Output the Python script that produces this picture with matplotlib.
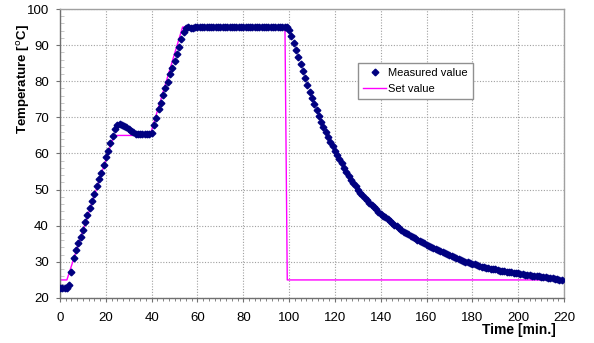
import numpy as np
import matplotlib
matplotlib.use("Agg")
import matplotlib.pyplot as plt
from matplotlib.ticker import MultipleLocator

# measured temperature, one sample per minute (t = 0 .. 219)
meas_time = list(range(220))
meas_temp = [
    22.8, 22.8, 22.8, 22.8, 23.6, 27.3, 31.0, 33.3, 35.2, 37.0,   # 0-9
    38.9, 40.9, 42.9, 44.9, 46.9, 48.8, 50.9, 52.9, 54.7, 56.7,   # 10-19
    58.9, 60.8, 62.9, 64.8, 66.7, 67.9, 68.1, 68.0, 67.7, 67.3,   # 20-29
    66.9, 66.3, 65.9, 65.5, 65.4, 65.3, 65.3, 65.3, 65.3, 65.3,   # 30-39
    65.7, 67.8, 69.9, 72.2, 74.1, 76.1, 78.0, 79.8, 81.9, 83.8,   # 40-49
    85.6, 87.5, 89.6, 91.7, 93.5, 94.7, 94.9, 94.8, 94.8, 94.9,   # 50-59
    95.0, 95.0, 95.0, 95.0, 95.0, 95.0, 95.0, 95.0, 95.0, 95.0,   # 60-69
    95.0, 95.0, 95.0, 95.0, 95.0, 95.0, 95.0, 95.0, 95.0, 95.0,   # 70-79
    95.0, 95.0, 95.0, 95.0, 95.0, 95.0, 95.0, 95.0, 95.0, 95.0,   # 80-89
    95.0, 95.0, 95.0, 95.0, 95.0, 95.0, 95.0, 95.0, 95.0, 94.9,   # 90-99
    94.1, 92.5, 90.6, 88.6, 86.7, 84.7, 82.8, 80.9, 79.0, 77.1,   # 100-109
    75.3, 73.6, 72.0, 70.4, 68.8, 67.3, 66.0, 64.5, 63.2, 62.0,   # 110-119
    60.7, 59.5, 58.4, 57.3, 56.1, 55.0, 53.9, 52.8, 51.8, 50.9,   # 120-129
    50.0, 49.2, 48.4, 47.7, 47.0, 46.3, 45.7, 45.1, 44.5, 43.9,   # 130-139
    43.3, 42.8, 42.3, 41.8, 41.3, 40.8, 40.3, 39.8, 39.3, 38.8,   # 140-149
    38.4, 38.0, 37.6, 37.2, 36.8, 36.5, 36.1, 35.8, 35.4, 35.1,   # 150-159
    34.8, 34.5, 34.2, 33.9, 33.6, 33.3, 33.0, 32.7, 32.4, 32.1,   # 160-169
    31.8, 31.5, 31.3, 31.0, 30.8, 30.5, 30.3, 30.1, 29.9, 29.7,   # 170-179
    29.5, 29.3, 29.1, 28.9, 28.7, 28.6, 28.4, 28.3, 28.1, 28.0,   # 180-189
    27.9, 27.8, 27.6, 27.5, 27.4, 27.3, 27.2, 27.1, 27.0, 26.9,   # 190-199
    26.8, 26.7, 26.6, 26.5, 26.4, 26.3, 26.2, 26.1, 26.0, 26.0,   # 200-209
    25.9, 25.8, 25.7, 25.6, 25.5, 25.4, 25.3, 25.2, 25.1, 25.0,   # 210-219
]

# set value profile (corner points)
set_time = [0, 3, 23.5, 39.3, 53.5, 98.2, 99.2, 219]
set_temp = [25, 25, 65, 65, 95, 95, 25, 25]

x_ticks = list(range(0, 221, 20))
y_ticks = list(range(20, 101, 10))

plt.rcParams['font.family'] = ['Liberation Sans', 'DejaVu Sans']

fig = plt.figure(figsize=(5.94, 3.43), dpi=100)
ax = fig.add_axes([60 / 594, 45 / 343, 504 / 594, 289 / 343])

ax.plot(set_time, set_temp, color='#ff00ff', lw=1.0, label='Set value', zorder=2)
ax.plot(meas_time, meas_temp, linestyle='none', marker='D', ms=3.4,
        color='#000080', mec='#000080', label='Measured value', zorder=3)

ax.set_xlim(0, 220)
ax.set_ylim(20, 100)
ax.set_xticks(x_ticks)
ax.set_yticks(y_ticks)
ax.xaxis.set_minor_locator(MultipleLocator(2.5))
ax.yaxis.set_minor_locator(MultipleLocator(2))

ax.grid(True, which='major', color='#a0a0a0', linestyle=(0, (1, 1.5)), lw=0.8)
ax.set_axisbelow(True)

ax.tick_params(axis='both', which='major', labelsize=9.5, colors='#707070',
               labelcolor='black', length=3, width=0.8)
ax.tick_params(axis='x', which='major', direction='out', pad=7)
ax.tick_params(axis='y', which='major', direction='out', pad=5)
ax.tick_params(axis='x', which='minor', direction='out', length=2.5, color='#707070')
ax.tick_params(axis='y', which='minor', direction='in', length=3, color='#c0c0c0')

for s in ['left', 'bottom']:
    ax.spines[s].set_color('#707070')
for s in ['top', 'right']:
    ax.spines[s].set_color('#a0a0a0')
for s in ax.spines.values():
    s.set_linewidth(1.0)

handles, labels = ax.get_legend_handles_labels()
leg = ax.legend(handles[::-1], labels[::-1], loc='upper left',
                bbox_to_anchor=(0.591, 0.813), fontsize=8, frameon=True,
                fancybox=False, edgecolor='#909090', framealpha=1,
                handlelength=2.1, handletextpad=0.2, borderpad=0.45,
                labelspacing=0.5, borderaxespad=0)
leg.get_frame().set_linewidth(1.0)

fig.text(23 / 594, 1 - 79 / 343, r'Temperature [$^{\mathrm{o}}$C]', rotation=90,
         ha='center', va='center', fontsize=9.5, fontweight='bold')
fig.text(556 / 594, 1 - 330 / 343, 'Time [min.]', ha='right', va='center',
         fontsize=10, fontweight='bold')

fig.savefig('out.png', dpi=100)
